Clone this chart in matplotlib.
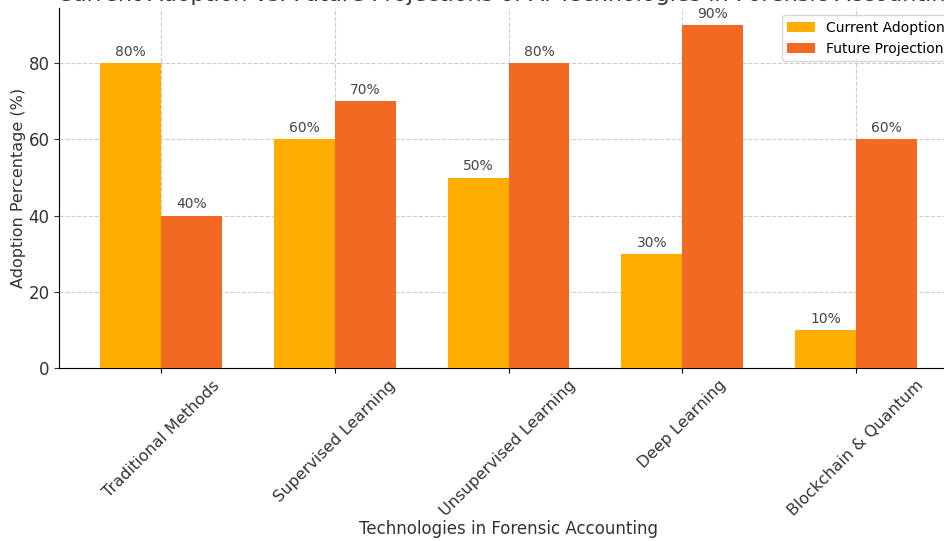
import matplotlib
matplotlib.use("Agg")
import matplotlib.pyplot as plt
import numpy as np

categories = ["Traditional Methods", "Supervised Learning", "Unsupervised Learning",
              "Deep Learning", "Blockchain & Quantum"]
current_adoption = [80, 60, 50, 30, 10]
future_projection = [40, 70, 80, 90, 60]
series_names = ["Current Adoption", "Future Projection"]
title_text = "Current Adoption vs. Future Projections of AI Technologies in Forensic Accounting"

fig = plt.figure(figsize=(9.45, 5.41), dpi=100)
ax = fig.add_axes([0.0629, 0.3198, 0.9504, 0.6652])

x = np.arange(len(categories))
w = 0.35
b1 = ax.bar(x - w/2, current_adoption, w, color="#FFAD00", label=series_names[0], zorder=3)
b2 = ax.bar(x + w/2, future_projection, w, color="#F26A21", label=series_names[1], zorder=3)

for bars in (b1, b2):
    ax.bar_label(bars, labels=[f"{v}%" for v in bars.datavalues], padding=3,
                 fontsize=10, color="#444444")

ax.set_xticks(x)
ax.set_xticklabels(categories, rotation=45, ha="center", fontsize=11.5, color="#333333")
ax.tick_params(axis="y", labelsize=12, colors="#333333")
ax.set_yticks([0, 20, 40, 60, 80])
ax.set_ylabel("Adoption Percentage (%)", fontsize=11.5, color="#333333", labelpad=2)
ax.set_xlabel("Technologies in Forensic Accounting", fontsize=12, color="#333333", labelpad=1)
ax.set_title(title_text, fontsize=16, color="#333333", pad=5)
ax.grid(True, linestyle="--", color="#cccccc", linewidth=0.8, zorder=0)
ax.set_axisbelow(True)
for s in ("top", "right"):
    ax.spines[s].set_visible(False)
ax.legend(loc="upper right", fontsize=10, frameon=True)

fig.savefig("out.png", dpi=100)
